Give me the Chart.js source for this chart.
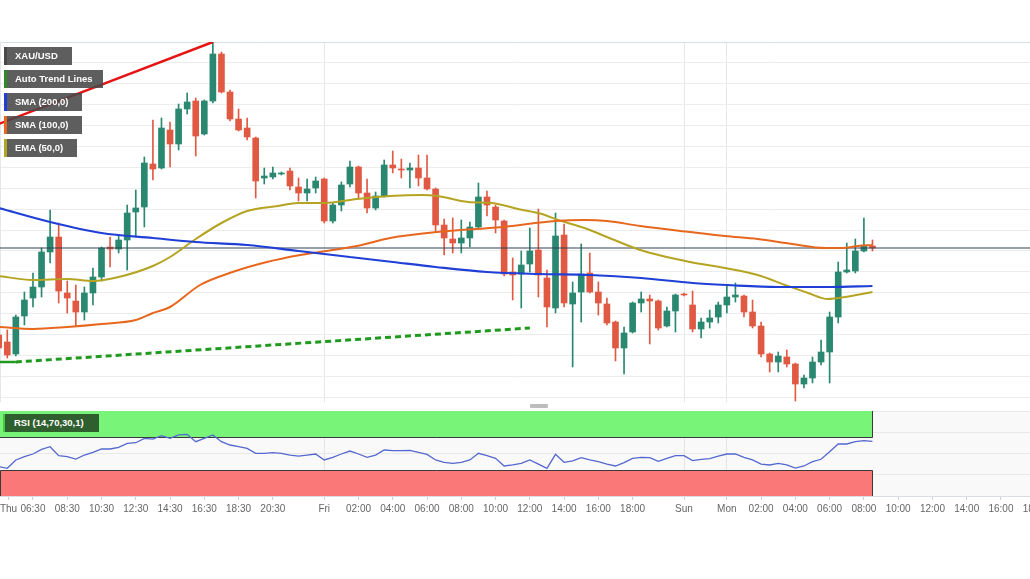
<!DOCTYPE html>
<html>
<head>
<meta charset="utf-8">
<script src="https://cdn.jsdelivr.net/npm/chart.js@4.4.1/dist/chart.umd.min.js"></script>
<style>
html,body{margin:0;padding:0;background:#fff;width:1030px;height:579px;overflow:hidden;font-family:"Liberation Sans",Arial,sans-serif;}
#main{position:absolute;left:0;top:42px;}
#rsi{position:absolute;left:0;top:411px;}
.lg{position:absolute;left:4px;height:18px;line-height:18px;background:rgba(72,72,72,0.88);color:#fff;font-weight:bold;font-size:9.5px;padding-left:8px;box-sizing:border-box;border-left:3px solid rgba(72,72,72,0.88);white-space:nowrap;}
#handle{position:absolute;left:530px;top:404px;width:18px;height:4px;background:#bdbdbd;border-radius:1px;}
#rsiLabel{position:absolute;left:3px;top:414px;width:96px;height:18px;line-height:18px;background:#2f5f2f;color:#fff;font-weight:bold;font-size:9.5px;padding-left:9px;box-sizing:border-box;border-left:2px solid #45c845;white-space:nowrap;}
</style>
</head>
<body>
<canvas id="main" width="1030" height="360"></canvas>
<canvas id="rsi" width="1030" height="110"></canvas>
<div class="lg" style="top:47px;width:68px;">XAU/USD</div>
<div class="lg" style="top:70px;width:99px;border-left-color:#2b8a2b;">Auto Trend Lines</div>
<div class="lg" style="top:93px;width:78px;border-left-color:#1f3fd6;">SMA (200,0)</div>
<div class="lg" style="top:116px;width:78px;border-left-color:#e8671e;">SMA (100,0)</div>
<div class="lg" style="top:139px;width:73px;border-left-color:#b5a422;">EMA (50,0)</div>
<div id="handle"></div>
<div id="rsiLabel">RSI (14,70,30,1)</div>
<script>
// ---- data (price in chart units, 30-minute candle slots) ----
const firstSlot = -1;
const opens  = [67,60,48,86,104,115,150,165,109,101,90,109,125,155,153,162,190,195,238,234,272,258,293,301,268,301,348,310,283,274,264,224,225,228,231,215,209,214,223,181,197,218,235,209,194,206,237,233,232,234,224,213,177,163,159,164,175,205,195,181,130,128,138,152,124,94,167,98,110,129,110,98,80,54,70,99,103,101,76,91,108,97,73,80,85,97,105,106,90,76,48,40,45,38,18,24,40,50,85,130,131,151,156];
const highs  = [72,72,87,110,129,154,192,179,121,117,115,134,155,165,166,197,212,245,282,284,280,298,309,304,302,360,350,312,293,284,265,234,235,230,234,224,223,225,224,199,220,241,236,223,210,242,251,243,239,247,247,214,183,184,182,180,219,211,197,182,144,151,174,193,132,189,178,120,158,149,120,104,81,75,100,110,107,102,95,108,109,111,84,92,100,117,119,107,102,80,49,50,52,39,27,45,62,90,140,159,163,184,162];
const lows   = [50,44,46,77,95,105,139,99,89,76,82,97,121,135,149,132,165,175,222,233,235,252,288,246,267,299,309,281,271,262,204,218,223,227,212,201,201,209,179,179,191,215,204,189,192,205,229,224,214,216,212,170,147,149,149,155,174,186,169,126,102,94,130,105,75,89,95,35,80,109,87,77,41,28,69,90,58,72,75,70,106,70,64,74,79,89,100,85,74,45,30,30,35,1,14,19,37,19,79,129,129,150,151];
const closes = [54,47,85,102,115,150,165,111,104,90,109,125,154,153,162,189,194,239,233,274,258,293,300,266,301,348,310,283,272,265,221,226,229,229,216,209,213,221,181,197,217,235,209,194,206,237,234,232,234,224,213,177,164,159,164,175,205,197,182,128,127,137,151,127,95,166,99,109,128,110,99,79,54,69,99,103,101,74,91,107,107,73,80,84,97,105,107,90,76,48,40,46,38,18,24,40,50,85,130,132,151,156,154];
const rsiValues = [34.5,32.6,42.4,46.3,49.4,54.9,58,47.5,46.3,43.5,48.2,51.4,55.3,55.3,57.3,62,62.7,67.8,67,71,67.8,71.8,72.5,63.9,67.8,71.8,63.9,60,58,56.1,50.2,50.2,51,50.2,48.2,47,48.2,49.4,42.4,45.5,49.4,52.9,49.4,45.5,48.2,54.1,53.3,53.3,53.7,51.4,49,42.4,39.6,38.4,39.6,42.4,50.2,47.5,44.3,35.3,36.5,38.4,42.4,37.5,32.6,49,39.6,41.2,45.1,42.4,40.4,37.6,35.3,39.2,44.3,45.5,45.1,40.8,44.3,47.5,47.5,41.6,43.2,43.9,47,49.4,49.4,45.5,42.4,37.6,36.5,38.4,36.5,32.9,35.3,40.4,43.2,52.1,61.2,61.2,63.9,65.1,64.3];

const sma200Slots  = [-1,5,11,17,22,28,34,40,45,50,56,62,68,74,80,84,90,96,101];
const sma200Values = [194,180,169,164,160,157,151,145,140,135,130,128,127,124,119,117,115,115,116];
const sma100Slots  = [-1,3,7,11,15,17,19,22.5,26.3,30.3,34.2,40.8,44.7,50.2,57.8,64,67.4,70,73.9,79.7,83.8,87.6,91.6,95.5,97.4,99.3,101];
const sma100Values = [75,73,75,78,82,89,95,117,130,140,147,156,164,170,175,181,182,181,176,170,166,163,158,154,154,156,157];
const ema50Slots   = [-1,3,7,10,13,17,19,22,25,28,31.6,34,36.9,40.8,44.7,48.5,50.2,53.8,56.6,59.6,62.4,64.3,67.4,70,73.9,79.7,83.8,87.6,90.8,93.5,95.8,97.8,101];
const ema50Values  = [126,122,123,121,125,136,145,163,179,191,196,199,199,203,206,207,206,200,199,193,188,182,174,165,152,140,134,127,117,109,103,105,110];

const resistanceSlots  = [-1,24];
const resistanceValues = [278,360];
const supportBaseSlots  = [-1,1];
const supportBaseValues = [40,40];
const supportSlots  = [1,61];
const supportValues = [40,74];

const tickSlots  = [0.15,3,7,11,15,19,23,27,31,37,41,45,49,53,57,61,65,69,73,79,84,88,92,96,100,104,108,112,116,120];
const tickLabels = ['Thu','06:30','08:30','10:30','12:30','14:30','16:30','18:30','20:30','Fri','02:00','04:00','06:00','08:00','10:00','12:00','14:00','16:00','18:00','Sun','Mon','02:00','04:00','06:00','08:00','10:00','12:00','14:00','16:00','18:00'];
const dayLabels = ['Fri','Sun','Mon'];

// ---- derived ----
const slots = opens.map((_, i) => firstSlot + i);
const lastSlot = slots[slots.length - 1];
const lastClose = closes[closes.length - 1];
const X_MIN = -0.85, X_MAX = 119.39;
const UP = '#2a8770', DOWN = '#e05a43';
const candleColors = opens.map((o, i) => closes[i] >= o ? UP : DOWN);
const pts = (xs, ys) => xs.map((x, i) => ({x, y: ys[i]}));
const daySlots = tickSlots.filter((s, i) => dayLabels.includes(tickLabels[i]));
const noPad = (a) => { a.paddingLeft = 0; a.paddingRight = 0; a.paddingTop = 0; a.paddingBottom = 0; };

const mainCtx = document.getElementById('main');
new Chart(mainCtx, {
  type: 'bar',
  data: {
    datasets: [
      {type:'line', data: pts(resistanceSlots, resistanceValues), borderColor:'#e51414', borderWidth:2.5, pointRadius:0, order:1},
      {type:'line', data: pts(supportBaseSlots, supportBaseValues), borderColor:'#1f9a1f', borderWidth:2.5, pointRadius:0, order:1},
      {type:'line', data: pts(supportSlots, supportValues), borderColor:'#1f9a1f', borderWidth:3, borderDash:[6,4], pointRadius:0, order:1},
      {type:'line', data: [{x:X_MIN,y:lastClose},{x:X_MAX,y:lastClose}], borderColor:'#2e4057', borderWidth:1, pointRadius:0, order:5},
      {type:'line', data: pts(sma200Slots, sma200Values), borderColor:'#1f3fd6', borderWidth:2.2, pointRadius:0, tension:0.4, cubicInterpolationMode:'monotone', order:2},
      {type:'line', data: pts(sma100Slots, sma100Values), borderColor:'#e8671e', borderWidth:2, pointRadius:0, tension:0.4, cubicInterpolationMode:'monotone', order:3},
      {type:'line', data: pts(ema50Slots, ema50Values), borderColor:'#b5a422', borderWidth:2, pointRadius:0, tension:0.4, cubicInterpolationMode:'monotone', order:4},
      {label:'wicks', data: slots.map((s, i) => ({x:s, y:[lows[i], highs[i]]})), backgroundColor:candleColors, barThickness:1, grouped:false, order:11},
      {label:'bodies', data: slots.map((s, i) => ({x:s, y:[opens[i], closes[i]]})), backgroundColor:candleColors, barThickness:6, minBarLength:1, grouped:false, order:10}
    ]
  },
  options: {
    responsive:false, animation:false, events:[],
    layout:{padding:0, autoPadding:false},
    plugins:{legend:{display:false}, tooltip:{enabled:false}},
    scales:{
      x:{type:'linear', min:X_MIN, max:X_MAX, offset:false,
         afterBuildTicks:(a)=>{a.ticks = daySlots.map(v=>({value:v}));},
         afterFit:(a)=>{a.height=0; noPad(a);},
         ticks:{display:false}, grid:{color:'#e6e6e6', drawTicks:false, offset:false},
         border:{display:true, color:'#dde2e8'}},
      y:{min:0, max:360,
         afterBuildTicks:(a)=>{const t=[]; for(let v=360; v>0; v-=20.9) t.push({value:v}); a.ticks=t;},
         afterFit:(a)=>{a.width=0; noPad(a);},
         ticks:{display:false}, grid:{color:(c)=>c.tick && c.tick.value===360 ? '#d5dde6' : '#ececec', drawTicks:false},
         border:{display:true, color:'#e3e6ea'}}
    }
  }
});

const zonePlugin = {
  id:'zones',
  beforeDraw(chart){
    const {ctx, chartArea:a} = chart;
    ctx.save(); ctx.fillStyle='#f9f9f9'; ctx.fillRect(a.left, a.top, a.right-a.left, a.bottom-a.top); ctx.restore();
  },
  beforeDatasetsDraw(chart){
    const {ctx, scales:{x, y}} = chart;
    const x0 = x.getPixelForValue(X_MIN), x1 = Math.round(x.getPixelForValue(lastSlot)) + 0.5;
    const y100 = y.getPixelForValue(100), y70 = Math.round(y.getPixelForValue(70)) + 0.5;
    const y30 = Math.round(y.getPixelForValue(30)) + 0.5, y0 = y.getPixelForValue(0);
    ctx.save();
    ctx.fillStyle = '#78f578'; ctx.fillRect(x0, y100, x1 - x0, y70 - y100);
    ctx.fillStyle = '#fb7878'; ctx.fillRect(x0, y30, x1 - x0, y0 - y30);
    ctx.strokeStyle = '#3a3a3a'; ctx.lineWidth = 1;
    ctx.beginPath();
    ctx.moveTo(x0, y70); ctx.lineTo(x1, y70); ctx.lineTo(x1, y100);
    ctx.moveTo(x0 + 0.5, y0); ctx.lineTo(x0 + 0.5, y30); ctx.lineTo(x1, y30); ctx.lineTo(x1, y0);
    ctx.stroke();
    ctx.restore();
  }
};

new Chart(document.getElementById('rsi'), {
  type:'line',
  data:{datasets:[{data: pts(slots, rsiValues), borderColor:'#5468cf', borderWidth:1.3, pointRadius:0, tension:0}]},
  options:{
    responsive:false, animation:false, events:[],
    layout:{padding:0, autoPadding:false},
    plugins:{legend:{display:false}, tooltip:{enabled:false}},
    scales:{
      x:{type:'linear', min:X_MIN, max:X_MAX, offset:false,
         afterBuildTicks:(a)=>{a.ticks = tickSlots.map(v=>({value:v}));},
         afterFit:(a)=>{a.height=25; noPad(a);},
         ticks:{autoSkip:false, maxRotation:0, minRotation:0, padding:3, color:'#666', font:{family:'"Liberation Sans", Arial, sans-serif', size:10},
                callback:(v, i)=>tickLabels[i]},
         grid:{color:(c)=>c.tick && daySlots.includes(c.tick.value) ? '#e4e4e4' : 'rgba(0,0,0,0)', tickColor:'#cfcfcf', tickLength:4, offset:false},
         border:{display:true, color:'#d8dde3'}},
      y:{min:0, max:100, afterFit:(a)=>{a.width=0; noPad(a);},
         ticks:{display:false, stepSize:25}, grid:{color:'#e8e8e8', drawTicks:false},
         border:{display:false}}
    }
  },
  plugins:[zonePlugin]
});
</script>
</body>
</html>
